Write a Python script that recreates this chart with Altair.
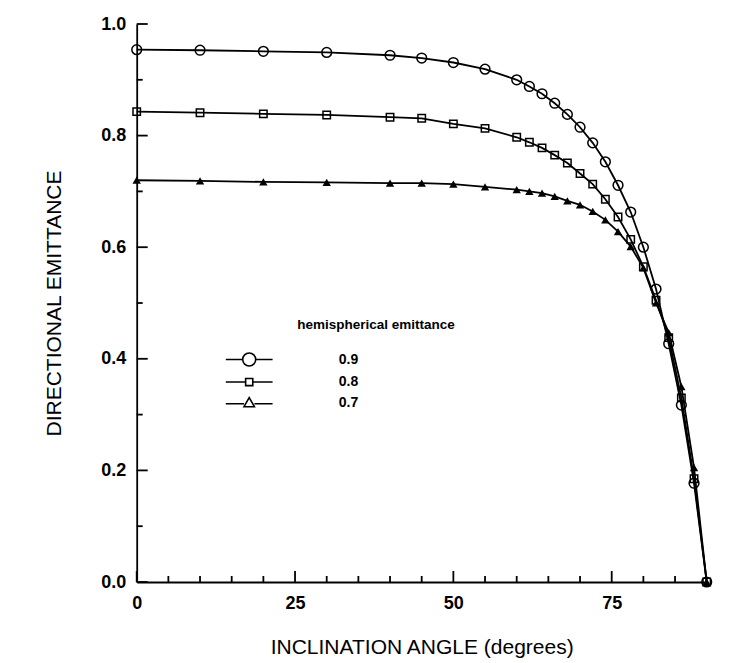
import altair as alt
import pandas as pd

# ---- data ----
angles = [0, 10, 20, 30, 40, 45, 50, 55, 60, 62, 64, 66, 68, 70, 72, 74, 76, 78, 80, 82, 84, 86, 88, 90]
emit_09 = [0.954, 0.953, 0.951, 0.949, 0.944, 0.939, 0.931, 0.919, 0.900, 0.888, 0.875, 0.858, 0.838,
           0.815, 0.787, 0.753, 0.711, 0.663, 0.600, 0.525, 0.427, 0.317, 0.177, 0.0]
emit_08 = [0.843, 0.841, 0.839, 0.837, 0.833, 0.831, 0.821, 0.813, 0.797, 0.788, 0.778, 0.765, 0.751,
           0.732, 0.713, 0.686, 0.654, 0.614, 0.565, 0.505, 0.438, 0.330, 0.185, 0.0]
emit_07 = [0.720, 0.719, 0.717, 0.716, 0.715, 0.715, 0.713, 0.708, 0.703, 0.700, 0.697, 0.691, 0.683,
           0.676, 0.664, 0.649, 0.628, 0.601, 0.563, 0.500, 0.447, 0.350, 0.205, 0.0]
series_labels = ["0.9", "0.8", "0.7"]
legend_title = "hemispherical emittance"
x_title = "INCLINATION ANGLE (degrees)"
y_title = "DIRECTIONAL EMITTANCE"
x_major = [0, 25, 50, 75]
x_minor = [5, 10, 15, 20, 30, 35, 40, 45, 55, 60, 65, 70, 80, 85]
y_major = [0.0, 0.2, 0.4, 0.6, 0.8, 1.0]
y_minor = [0.1, 0.3, 0.5, 0.7, 0.9]

rows = []
for lab, vals in zip(series_labels, [emit_09, emit_08, emit_07]):
    for a, v in zip(angles, vals):
        rows.append({"angle": a, "emit": v, "series": lab})
df = pd.DataFrame(rows)

W, H = 570, 558
FONT = "Liberation Sans"

def xs():
    return alt.Scale(domain=[0, 90], nice=False, zero=False)

def ys():
    return alt.Scale(domain=[0, 1], nice=False)

main_x = alt.Axis(values=x_major, orient="bottom", ticks=False, domain=True, domainColor="black",
                  domainWidth=1.8, labelFont=FONT, labelFontSize=18, labelFontWeight="bold",
                  labelColor="black", labelPadding=12, labelFlush=False, grid=False,
                  title=x_title, titleFont=FONT, titleFontSize=21, titleFontWeight="normal",
                  titleColor="black", titlePadding=24)
main_y = alt.Axis(values=y_major, orient="left", format=".1f", ticks=False, domain=True,
                  domainColor="black", domainWidth=1.8, labelFont=FONT, labelFontSize=18,
                  labelFontWeight="bold", labelColor="black", labelPadding=11, labelFlush=False,
                  grid=False, title=y_title, titleFont=FONT, titleFontSize=21,
                  titleFontWeight="normal", titleColor="black", titlePadding=36)

base = alt.Chart(df)

lines = base.mark_line(color="black", strokeWidth=1.8).encode(
    x=alt.X("angle:Q", scale=xs(), axis=main_x),
    y=alt.Y("emit:Q", scale=ys(), axis=main_y),
    detail="series:N",
    order="angle:Q",
)

# inward tick marks (drawn from the tick-value lists)
def x_ticks(values, length):
    return alt.Chart(pd.DataFrame({"v": values})).mark_rule(
        color="black", strokeWidth=1.8
    ).encode(
        x=alt.X("v:Q", scale=xs(), axis=None),
        y=alt.value(H), y2=alt.value(H - length),
    )

def y_ticks(values, length):
    return alt.Chart(pd.DataFrame({"v": values})).mark_rule(
        color="black", strokeWidth=1.8, orient="horizontal"
    ).encode(
        y=alt.Y("v:Q", scale=ys(), axis=None),
        x=alt.value(0), x2=alt.value(length),
    )

circles = base.transform_filter(alt.datum.series == "0.9").mark_point(
    shape="circle", filled=False, color="black", size=95, strokeWidth=1.5, opacity=1
).encode(
    x=alt.X("angle:Q", scale=xs(), axis=None),
    y=alt.Y("emit:Q", scale=ys(), axis=None),
)

squares = base.transform_filter(alt.datum.series == "0.8").mark_point(
    shape="square", filled=False, color="black", size=55, strokeWidth=1.5, opacity=1
).encode(
    x=alt.X("angle:Q", scale=xs(), axis=None),
    y=alt.Y("emit:Q", scale=ys(), axis=None),
)

triangles = base.transform_filter(alt.datum.series == "0.7").mark_point(
    shape="triangle-up", filled=True, color="black", size=70, opacity=1
).encode(
    x=alt.X("angle:Q", scale=xs(), axis=None),
    y=alt.Y("emit:Q", scale=ys(), axis=None),
)

circle_sym = "M-3.6,0L-1,0M1,0L3.6,0M1,0A1,1,0,1,1,-1,0A1,1,0,1,1,1,0Z"
square_sym = "M-3.6,0L-0.55,0M0.55,0L3.6,0M-0.55,-0.55L0.55,-0.55L0.55,0.55L-0.55,0.55Z"
tri_sym = "M-3.6,0.2L-0.8,0.2M0.8,0.2L3.6,0.2M0,-0.75L0.8,0.65L-0.8,0.65Z"

legend_layer = base.mark_point(filled=False, color="black", opacity=0, strokeWidth=1.6).encode(
    x=alt.X("angle:Q", scale=xs(), axis=None),
    y=alt.Y("emit:Q", scale=ys(), axis=None),
    shape=alt.Shape(
        "series:N",
        scale=alt.Scale(domain=series_labels, range=[circle_sym, square_sym, tri_sym]),
        legend=alt.Legend(
            orient="none", legendX=105, legendY=328, title=None, direction="vertical",
            labelFont=FONT, labelFontSize=14, labelFontWeight="bold", labelColor="black",
            labelOffset=82, symbolSize=169, symbolStrokeColor="black",
            symbolFillColor="transparent", symbolStrokeWidth=1.6, symbolOpacity=1,
            rowPadding=4.5, padding=0, symbolOffset=0,
        ),
    ),
)

legend_head = alt.Chart(pd.DataFrame({"t": [legend_title]})).mark_text(
    align="left", baseline="middle", font=FONT, fontSize=13.5, fontWeight="bold", color="black"
).encode(x=alt.value(160.6), y=alt.value(301), text="t:N")

chart = alt.layer(
    lines,
    x_ticks(x_major, 11), x_ticks(x_minor, 6),
    y_ticks(y_major, 11), y_ticks(y_minor, 6),
    circles, squares, triangles, legend_layer, legend_head,
).resolve_axis(
    x="independent", y="independent"
).properties(
    width=W, height=H,
    autosize=alt.AutoSizeParams(type="none"),
    padding={"left": 136.7, "top": 24, "right": 29.3, "bottom": 81},
    background="white",
).configure_view(stroke=None)

chart.save("out.html", embed_options={"renderer": "svg", "actions": False})
